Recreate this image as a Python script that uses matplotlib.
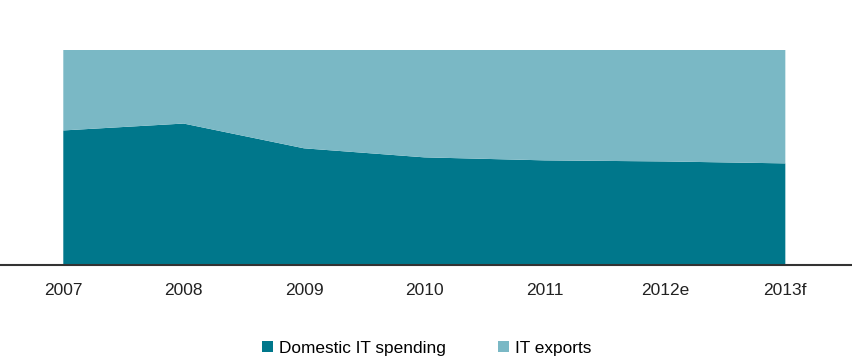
import matplotlib.pyplot as plt
from matplotlib.patches import Patch

# Share of IT market (stacked to 100%)
years = ["2007", "2008", "2009", "2010", "2011", "2012e", "2013f"]
domestic = [0.625, 0.657, 0.542, 0.500, 0.486, 0.481, 0.472]
exports = [1 - d for d in domestic]

dark = "#00778b"
light = "#7ab8c5"

plt.rcParams['font.family'] = ['Liberation Sans', 'DejaVu Sans']

fig = plt.figure(figsize=(8.52, 3.64), dpi=100)
ax = fig.add_axes([0, 99 / 364, 1, 215.3 / 364])

x = list(range(len(years)))
ax.stackplot(x, domestic, exports, colors=[dark, light], linewidth=0)

ax.set_xlim(-0.526, 6.554)
ax.set_ylim(0, 1)
ax.set_xticks(x)
ax.set_xticklabels(years, fontsize=12.5, color="#222222")
ax.tick_params(axis='x', length=0, pad=13)
ax.set_yticks([])
for s in ["top", "left", "right"]:
    ax.spines[s].set_visible(False)
ax.spines["bottom"].set_color("#333333")
ax.spines["bottom"].set_linewidth(1.5)

handles = [Patch(facecolor=dark, edgecolor="none"), Patch(facecolor=light, edgecolor="none")]
fig.legend(handles, ["Domestic IT spending", "IT exports"], loc="center",
           bbox_to_anchor=(0.5005, 1 - 348 / 364), ncol=2, frameon=False,
           fontsize=12.4, handlelength=0.65, handleheight=0.65, handletextpad=0.35,
           columnspacing=3.0)

fig.savefig("out.png", dpi=100)
